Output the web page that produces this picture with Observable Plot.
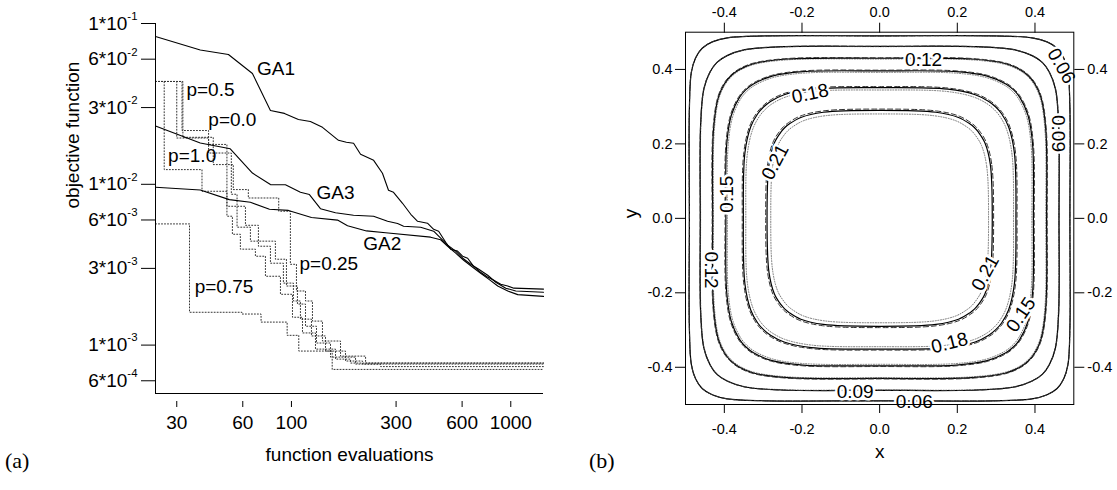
<!DOCTYPE html>
<html><head><meta charset="utf-8">
<script src="https://cdn.jsdelivr.net/npm/d3@7"></script>
<script src="https://cdn.jsdelivr.net/npm/@observablehq/plot@0.6"></script>
<style>
body{margin:0;background:#fff;}
#wrap{position:relative;width:1117px;height:490px;overflow:hidden;background:#fff;}
#pa{position:absolute;left:0;top:0;}
#pb{position:absolute;left:580px;top:0;}
.tag{position:absolute;font-family:"Liberation Serif","DejaVu Serif",serif;font-size:22px;line-height:22px;color:#000;}
</style></head><body>
<div id="wrap"><div id="pa"></div><div id="pb"></div>
<div class="tag" style="left:5px;top:450px">(a)</div>
<div class="tag" style="left:589px;top:450px">(b)</div></div>
<script>
// ---------- panel (a) data ----------
const ga1Evals = [24, 38.4, 51.6, 66.4, 80.2, 92.9, 107.6, 122, 138.5, 163.9, 178, 192, 206.6, 237, 260, 277, 292, 321, 350, 376, 417, 445, 469, 505, 532, 572, 603, 636, 676, 728, 783, 837, 900, 968, 1033, 1410];
const ga1Obj = [0.0830, 0.0684, 0.0642, 0.0489, 0.0288, 0.0276, 0.0253, 0.0246, 0.0226, 0.01877, 0.01824, 0.01798, 0.01536, 0.01409, 0.01171, 0.00918, 0.00892, 0.00762, 0.00651, 0.00589, 0.00573, 0.00525, 0.00511, 0.00436, 0.00395, 0.00384, 0.00357, 0.00347, 0.00310, 0.00284, 0.00265, 0.00253, 0.00239, 0.00233, 0.00226, 0.00223];
const ga3Evals = [24, 38.4, 52.6, 66.4, 80.2, 93.9, 109.9, 120.8, 135.6, 158.8, 191.9, 236.8, 274.4, 304.8, 324.7, 388.2, 445, 479, 515.6, 561, 604, 656.8, 714.5, 785, 854.3, 949, 1054, 1410];
const ga3Obj = [0.02302, 0.01805, 0.01662, 0.01175, 0.00996, 0.00993, 0.00892, 0.00863, 0.00705, 0.00665, 0.00642, 0.00633, 0.00589, 0.00570, 0.00548, 0.00541, 0.00511, 0.00462, 0.00418, 0.00384, 0.00347, 0.00318, 0.00296, 0.00272, 0.00246, 0.00226, 0.00217, 0.00213];
const ga2Evals = [24, 38.4, 52.1, 65.0, 79.4, 96.9, 123.4, 162.2, 180.2, 220, 268.7, 431.2, 479, 515.6, 561, 610, 670.7, 729, 793, 872, 969, 1076, 1410];
const ga2Obj = [0.00958, 0.00922, 0.00803, 0.00773, 0.00699, 0.00688, 0.00621, 0.00599, 0.00553, 0.00513, 0.00500, 0.00469, 0.00452, 0.00412, 0.00373, 0.00337, 0.00305, 0.00280, 0.00257, 0.00233, 0.00217, 0.00206, 0.00201];

const p050Evals = [24, 30.0, 41.9, 50.8, 61.7, 70.7, 80.2, 91.9, 102.1, 109.9, 123.4, 143.0, 176.4, 211.0, 1410];
const p050Obj = [0.0436, 0.0194, 0.0177, 0.0073, 0.00556, 0.00412, 0.00323, 0.00243, 0.00188, 0.00145, 0.00114, 0.000918, 0.000796, 0.000762, 0.000762];
const p000Evals = [24, 31.7, 41.9, 53.2, 56.5, 65.0, 84.5, 94.9, 106.5, 115.9, 130.1, 150.7, 196.0, 255.0, 1410];
const p000Obj = [0.0436, 0.0216, 0.01565, 0.00867, 0.00541, 0.00443, 0.00342, 0.00233, 0.00180, 0.00131, 0.00103, 0.000842, 0.000762, 0.000735, 0.000735];
const p100Evals = [24, 26.3, 39.1, 50.8, 53.8, 58.5, 68.5, 76.1, 89.1, 101.1, 112.3, 128.7, 158.8, 185.9, 1410];
const p100Obj = [0.0436, 0.01234, 0.00905, 0.00633, 0.00489, 0.00395, 0.00357, 0.00268, 0.00207, 0.00149, 0.00119, 0.000944, 0.000818, 0.000773, 0.000773];
const p025Evals = [24, 32.0, 44.0, 54.3, 63.6, 87.5, 98.9, 105.4, 115.9, 124.7, 138.5, 167.4, 217.8, 1410];
const p025Obj = [0.0436, 0.0196, 0.01326, 0.00927, 0.00822, 0.00680, 0.00318, 0.00217, 0.00188, 0.00141, 0.00106, 0.000854, 0.000773, 0.000773];
const p075Evals = [24, 34.3, 59.5, 72.7, 95.6, 108.0, 153.4, 1410];
const p075Obj = [0.00567, 0.00160, 0.00156, 0.00139, 0.00115, 0.000918, 0.000706, 0.000706];

const aLabelText = ["GA1", "p=0.5", "p=0.0", "p=1.0", "GA3", "GA2", "p=0.25", "p=0.75"];
const aLabelEvals = [69.7, 33.2, 41.8, 27.4, 130.1, 212.5, 108.8, 36.2];
const aLabelObj = [0.0525, 0.0384, 0.0253, 0.01493, 0.00879, 0.00424, 0.00318, 0.00229];

const aYTicks = [1e-1, 6e-2, 3e-2, 1e-2, 6e-3, 3e-3, 1e-3, 6e-4];
const aYTickLabels = ["1*10^-1", "6*10^-2", "3*10^-2", "1*10^-2", "6*10^-3", "3*10^-3", "1*10^-3", "6*10^-4"];
const aXTicks = [30, 60, 100, 300, 600, 1000];
const aXTickLabels = ["30", "60", "100", "300", "600", "1000"];

// ---------- panel (b) data ----------
const bLevels = [0.06, 0.09, 0.12, 0.15, 0.18, 0.21];
// quadrant points of each contour (x, y)
const c006 = [[0.490,0],[0.490,0.294],[0.485,0.392],[0.474,0.431],[0.457,0.457],[0.431,0.474],[0.392,0.485],[0.294,0.490]];
const c009 = [[0.462,0],[0.461,0.254],[0.453,0.347],[0.437,0.393],[0.419,0.419],[0.393,0.437],[0.347,0.453],[0.254,0.461]];
const c012 = [[0.430,0],[0.428,0.237],[0.416,0.323],[0.400,0.361],[0.383,0.383],[0.361,0.400],[0.323,0.416],[0.237,0.428]];
const c015 = [[0.396,0],[0.394,0.198],[0.382,0.277],[0.361,0.325],[0.345,0.345],[0.325,0.361],[0.277,0.382],[0.198,0.394]];
const c018 = [[0.351,0],[0.347,0.176],[0.332,0.246],[0.314,0.281],[0.299,0.299],[0.281,0.314],[0.246,0.332],[0.176,0.347]];
const c021 = [[0.290,0],[0.285,0.145],[0.271,0.203],[0.254,0.232],[0.244,0.244],[0.232,0.254],[0.203,0.271],[0.145,0.285]];
const dashedScale = [1.0, 1.0, 1.003, 1.005, 1.008, 1.012];
const dottedScale = [1.0, 0.998, 0.995, 0.99, 0.982, 0.967];

const cLabelText = ["0.12", "0.06", "0.09", "0.18", "0.21", "0.15", "0.12", "0.09", "0.06", "0.18", "0.15", "0.21"];
const cLabelX = [0.113, 0.468, 0.459, -0.179, -0.269, -0.394, -0.433, -0.063, 0.089, 0.180, 0.364, 0.272];
const cLabelY = [0.426, 0.409, 0.228, 0.335, 0.151, 0.065, -0.139, -0.466, -0.492, -0.335, -0.259, -0.147];
const cLabelAngle = [0, 60, 90, -12, -62, -90, 90, 0, 0, -14, -56, -61];

const bTicks = [-0.4, -0.2, 0.0, 0.2, 0.4];

// ---------- build panel (a) ----------
const FONT = "'Liberation Sans', Arial, Helvetica, sans-serif";
const toRows = (name, xs, ys) => xs.map((x, i) => ({run: name, x, y: ys[i]}));
const solidRows = [
  ...toRows("GA1", ga1Evals, ga1Obj),
  ...toRows("GA3", ga3Evals, ga3Obj),
  ...toRows("GA2", ga2Evals, ga2Obj)
];
const stepRows = [
  ...toRows("p=0.5", p050Evals, p050Obj),
  ...toRows("p=0.0", p000Evals, p000Obj),
  ...toRows("p=1.0", p100Evals, p100Obj),
  ...toRows("p=0.25", p025Evals, p025Obj),
  ...toRows("p=0.75", p075Evals, p075Obj)
];
const aLabels = aLabelText.map((t, i) => ({t, x: aLabelEvals[i], y: aLabelObj[i]}));
const yTickRows = aYTicks.map((v, i) => ({v, t: aYTickLabels[i]}));
const xTickRows = aXTicks.map((v, i) => ({v, t: aXTickLabels[i]}));

const chartA = Plot.plot({
  width: 580, height: 490,
  marginLeft: 155, marginRight: 37, marginTop: 23, marginBottom: 97,
  style: {fontFamily: FONT, fontSize: "19px", background: "white", color: "black", overflow: "visible"},
  x: {type: "log", domain: [24, 1410]},
  y: {type: "log", domain: [5e-4, 0.1]},
  marks: [
    Plot.line(stepRows, {x: "x", y: "y", z: "run", curve: "step-after", stroke: "#333", strokeWidth: 1, strokeDasharray: "1,2"}),
    Plot.line(solidRows, {x: "x", y: "y", z: "run", stroke: "black", strokeWidth: 1.1}),
    Plot.text(aLabels, {x: "x", y: "y", text: "t", textAnchor: "start", fontSize: 19, fill: "black"}),
    Plot.ruleX([24], {stroke: "black", strokeWidth: 1}),
    Plot.ruleY([5e-4], {stroke: "black", strokeWidth: 1}),
    Plot.axisY({ticks: aYTicks, tickSize: 14, label: null, tickFormat: () => ""}),
    Plot.text(yTickRows, {y: "v", text: "t", frameAnchor: "left", dx: -18, textAnchor: "end", fontSize: 19}),
    Plot.axisX({ticks: aXTicks, tickSize: 6, dy: 8, label: null, tickFormat: () => ""}),
    Plot.text(xTickRows, {x: "v", text: "t", frameAnchor: "bottom", dy: 35, fontSize: 19}),
    Plot.text(["objective function"], {text: d => d, frameAnchor: "left", dx: -83, rotate: -90, fontSize: 19}),
    Plot.text(["function evaluations"], {text: d => d, frameAnchor: "bottom", dy: 67, fontSize: 19})
  ]
});
document.getElementById("pa").appendChild(chartA);
// superscripts for y tick labels
d3.select(chartA).selectAll("text")
  .filter(function () { return this.textContent.indexOf("^") >= 0; })
  .each(function () {
    const parts = this.textContent.split("^");
    const t = d3.select(this);
    t.text(parts[0]);
    t.append("tspan").attr("dy", "-0.85em").attr("font-size", "0.6em").text(parts[1]);
  });

// ---------- build panel (b) ----------
const quads = [c006, c009, c012, c015, c018, c021];
function ringRows(P, s, level) {
  const rows = [];
  let Q = P.map(([x, y]) => [x * s, y * s]);
  for (let k = 0; k < 4; k++) {
    Q.forEach(([x, y]) => rows.push({level, x, y}));
    Q = Q.map(([x, y]) => [-y, x]);
  }
  return rows;
}
const solidRings = bLevels.flatMap((lv, i) => ringRows(quads[i], 1, lv));
const dashedRings = bLevels.flatMap((lv, i) => ringRows(quads[i], dashedScale[i], lv));
const dottedRings = bLevels.flatMap((lv, i) => ringRows(quads[i], dottedScale[i], lv));
const cLabels = cLabelText.map((t, i) => ({t, x: cLabelX[i], y: cLabelY[i], a: cLabelAngle[i]}));
const fmt = d => d.toFixed(1);

const chartB = Plot.plot({
  width: 537, height: 490,
  marginLeft: 105, marginRight: 43.7, marginTop: 31.7, marginBottom: 86,
  style: {fontFamily: FONT, fontSize: "19px", background: "white", color: "black", overflow: "visible"},
  x: {domain: [-0.5, 0.5]},
  y: {domain: [-0.5, 0.5]},
  marks: [
    Plot.line(dottedRings, {x: "x", y: "y", z: "level", curve: "catmull-rom-closed", stroke: "#777", strokeWidth: 1, strokeDasharray: "1,1.6"}),
    Plot.line(solidRings, {x: "x", y: "y", z: "level", curve: "catmull-rom-closed", stroke: "black", strokeWidth: 1.2}),
    Plot.line(dashedRings, {x: "x", y: "y", z: "level", curve: "catmull-rom-closed", stroke: "#333", strokeWidth: 1, strokeDasharray: "5,3"}),
    Plot.text(cLabels, {x: "x", y: "y", text: "t", rotate: "a", fontSize: 19, fill: "black", stroke: "white", strokeWidth: 5}),
    Plot.frame({stroke: "black", strokeWidth: 1}),
    Plot.axisX({anchor: "top", ticks: bTicks, tickSize: 10, tickPadding: 5, fontSize: 14.5, label: null, tickFormat: fmt}),
    Plot.axisX({anchor: "bottom", ticks: bTicks, tickSize: 9, tickPadding: 10, fontSize: 14.5, label: null, tickFormat: fmt}),
    Plot.axisY({anchor: "left", ticks: bTicks, tickSize: 10, tickPadding: 3, fontSize: 14.5, label: null, tickFormat: fmt}),
    Plot.axisY({anchor: "right", ticks: bTicks, tickSize: 10, tickPadding: 3.5, fontSize: 14.5, label: null, tickFormat: fmt}),
    Plot.text(["x"], {text: d => d, frameAnchor: "bottom", dy: 53, fontSize: 19}),
    Plot.text(["y"], {text: d => d, frameAnchor: "left", dx: -55, rotate: -90, fontSize: 19})
  ]
});
document.getElementById("pb").appendChild(chartB);
</script>
</body></html>
